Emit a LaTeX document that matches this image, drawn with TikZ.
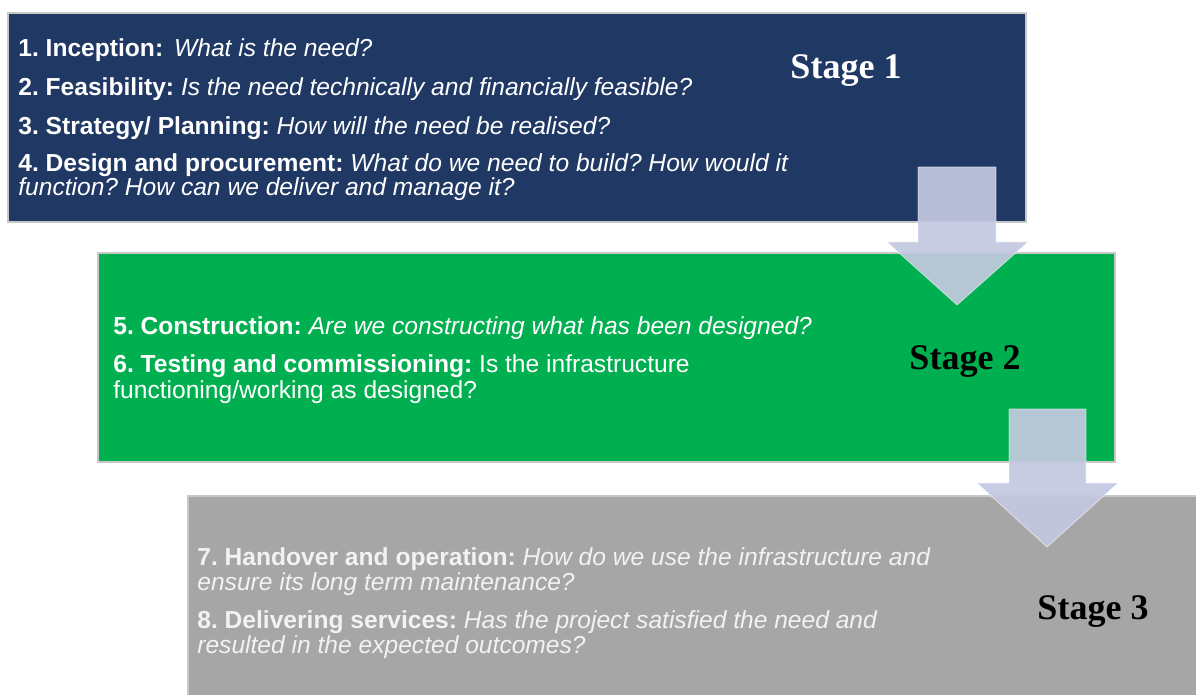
\documentclass[tikz,border=0pt]{standalone}
\usepackage{fontspec}
\setmainfont{Liberation Sans}
\newfontfamily\stagefont{Liberation Serif}
\usepackage{xcolor}
\definecolor{stagenavy}{HTML}{203864}
\definecolor{stagegreen}{HTML}{00B050}
\definecolor{stagegrey}{HTML}{A6A6A6}
\definecolor{arrowblue}{HTML}{C3C8E0}
\definecolor{framegrey}{HTML}{C8C8C8}
\definecolor{greytext}{HTML}{F2F2F2}
\frenchspacing

\tikzset{
  stagebox/.style={draw=framegrey, line width=0.8pt},
  item/.style={anchor=west, inner sep=0pt, text=white, font=\fontsize{14}{16}\selectfont},
  stagelabel/.style={inner sep=0pt, font=\stagefont\bfseries\fontsize{20.5}{24}\selectfont},
  bigarrow/.style={fill=arrowblue, fill opacity=0.93, draw=white, draw opacity=0.5, line width=0.5pt}
}

\begin{document}
\begin{tikzpicture}[x=0.02cm, y=-0.02cm]
  \useasboundingbox (0,0) rectangle (1196,695);
  % Stage 1 box
  \draw[stagebox, fill=stagenavy] (8,13) rectangle (1026,222);
  % Stage 2 box
  \draw[stagebox, fill=stagegreen] (98,253) rectangle (1115,462);
  % Stage 3 box, runs off the right and bottom edge
  \draw[stagebox, fill=stagegrey] (188,496) rectangle (1210,710);

  % Stage 1 items
  \node[item] (inception) at (18,50) {\textbf{1. Inception:}\, \textit{What is the need?}};
  \node[item] (feasibility) at (18,89) {\textbf{2. Feasibility:} \textit{Is the need technically and financially feasible?}};
  \node[item] (strategy) at (18,128) {\textbf{3. Strategy/ Planning:} \textit{How will the need be realised?}};
  \node[item] (design) at (18,165) {\textbf{4. Design and procurement:} \textit{What do we need to build? How would it}};
  \node[item] (designb) at (18,189) {\textit{function? How can we deliver and manage it?}};
  \node[stagelabel, text=white] (stageone) at (846,71) {Stage 1};

  % Stage 2 items
  \node[item] (construction) at (113,328) {\textbf{5. Construction:} \textit{Are we constructing what has been designed?}};
  \node[item] (testing) at (113,366) {\textbf{6. Testing and commissioning:} Is the infrastructure};
  \node[item] (testingb) at (113,392) {functioning/working as designed?};
  \node[stagelabel, text=black] (stagetwo) at (965,362) {Stage 2};

  % Stage 3 items
  \node[item, text=greytext] (handover) at (197,559) {\textbf{7. Handover and operation:} \textit{How do we use the infrastructure and}};
  \node[item, text=greytext] (handoverb) at (197,584) {\textit{ensure its long term maintenance?}};
  \node[item, text=greytext] (services) at (197,622) {\textbf{8. Delivering services:} \textit{Has the project satisfied the need and}};
  \node[item, text=greytext] (servicesb) at (197,647) {\textit{resulted in the expected outcomes?}};
  \node[stagelabel, text=black] (stagethree) at (1093,612) {Stage 3};

  % block arrows between the stages
  \draw[bigarrow] (918,167) -- (996,167) -- (996,242) -- (1028,242) -- (957,305)
    -- (887,242) -- (918,242) -- cycle;
  \draw[bigarrow] (1009,409) -- (1086,409) -- (1086,483) -- (1118,483) -- (1047,547)
    -- (977,483) -- (1009,483) -- cycle;
\end{tikzpicture}
\end{document}
